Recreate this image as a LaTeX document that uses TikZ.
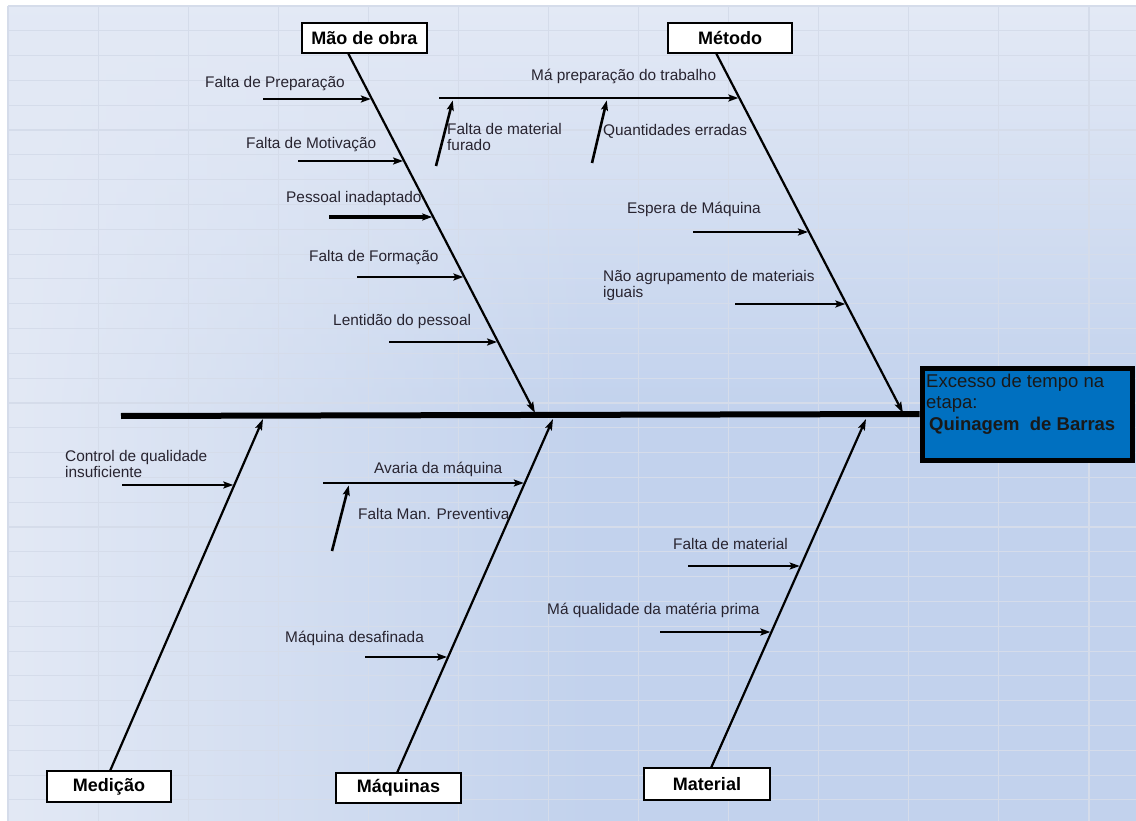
\documentclass[tikz,border=0pt]{standalone}
\usepackage{fontspec}
\setmainfont{Liberation Sans}
\usetikzlibrary{arrows.meta,fadings}

\definecolor{bgLight}{RGB}{227,233,245}
\definecolor{bgBlue}{RGB}{194,210,237}
\definecolor{gridc}{RGB}{213,220,234}
\definecolor{txt}{RGB}{40,36,48}
\definecolor{effblue}{RGB}{0,112,192}

% sheet background: light at the top, blue further down
\pgfdeclareverticalshading{sheetv}{100bp}{color(0bp)=(bgBlue); color(25bp)=(bgBlue); color(50bp)=(bgBlue); color(75bp)=(bgLight); color(100bp)=(bgLight)}
\tikzfading[name=faderight, left color=transparent!0, right color=transparent!100]

\tikzset{
  catbox/.style={draw=black, line width=2.5pt, fill=white, text=black, inner sep=0pt,
    font=\fontsize{18}{20}\selectfont\bfseries},
  bone/.style={line width=2.2pt, -{Stealth[length=11pt,width=7pt,inset=2pt]}},
  subarrow/.style={line width=2.6pt, -{Stealth[length=10pt,width=7pt,inset=2pt]}, shorten >=1pt},
  lbl/.style={anchor=base west, inner sep=0pt, text=txt, align=left,
    font=\fontsize{15.4}{16}\selectfont},
  gridline/.style={draw=gridc, line width=1.1pt}
}

\begin{document}
\begin{tikzpicture}[x=1pt,y=-1pt]
\useasboundingbox (0,0) rectangle (1136,821);
\fill[white] (0,0) rectangle (1136,821);

% spreadsheet background and cell grid
\shade[shading=sheetv] (8,6) rectangle (1136,821);
\fill[bgLight, path fading=faderight] (8,6) rectangle (600,821);
\foreach \i in {0,...,12} \draw[gridline] ({8+90.08*\i},6) -- ({8+90.08*\i},821);
\foreach \k in {0,...,32} \draw[gridline] (8,{6+24.81*\k}) -- (1136,{6+24.81*\k});

% effect box (multi-line labels are placed by the baseline of their last line)
\node[draw=black, line width=5pt, fill=effblue, minimum width=210pt, minimum height=92pt,
      inner sep=0pt, anchor=north west] (eff) at (919.5,365.5) {};
\node[lbl, text=black!90, font=\fontsize{18.5}{21.5}\selectfont] (efftxt) at (926,430)
  {Excesso de tempo na\\etapa:\\\hspace{3pt}\textbf{Quinagem\ \ de Barras}};

% spine
\coordinate (spineL) at (121,416);
\draw[line width=6pt] (spineL) -- (eff.west);

% category boxes
\node[catbox, minimum width=125pt, minimum height=30pt] (mao) at (364.5,38) {Mão de obra};
\node[catbox, minimum width=124pt, minimum height=30pt] (met) at (730,38) {Método};
\node[catbox, minimum width=124pt, minimum height=31pt] (med) at (109,786.5) {Medição};
\node[catbox, minimum width=125pt, minimum height=30pt] (maq) at (398.5,788) {Máquinas};
\node[catbox, minimum width=126pt, minimum height=32pt] (mat) at (707,784) {Material};

% bone ends
\coordinate (maoTop) at (348,53);   \coordinate (maoEnd) at (535,413);
\coordinate (metTop) at (716,53);   \coordinate (metEnd) at (903,413);
\coordinate (medBot) at (110,771);  \coordinate (medEnd) at (263,419);
\coordinate (maqBot) at (397,773);  \coordinate (maqEnd) at (553,419);
\coordinate (matBot) at (711,768);  \coordinate (matEnd) at (866,419);

\draw[bone] (maoTop) -- (maoEnd);
\draw[bone] (metTop) -- (metEnd);
\draw[bone] (medBot) -- (medEnd);
\draw[bone] (maqBot) -- (maqEnd);
\draw[bone] (matBot) -- (matEnd);

% Mão de obra causes
\coordinate (a1s) at (263,99);  \coordinate (a1e) at (371.9,99);
\coordinate (a2s) at (298,161); \coordinate (a2e) at (404.1,161);
\coordinate (a3s) at (329,217); \coordinate (a3e) at (433.2,217);
\coordinate (a4s) at (357,277); \coordinate (a4e) at (464.4,277);
\coordinate (a5s) at (389,342); \coordinate (a5e) at (498.1,342);
\draw[subarrow] (a1s) -- (a1e);
\draw[subarrow] (a2s) -- (a2e);
\draw[subarrow, line width=4pt] (a3s) -- (a3e);
\draw[subarrow] (a4s) -- (a4e);
\draw[subarrow] (a5s) -- (a5e);
\node[lbl] (t1) at (205,88)  {Falta de Preparação};
\node[lbl] (t2) at (246,149) {Falta de Motivação};
\node[lbl] (t3) at (286,203) {Pessoal inadaptado};
\node[lbl] (t4) at (309,262) {Falta de Formação};
\node[lbl] (t5) at (333,326) {Lentidão do pessoal};

% Método causes
\coordinate (b1s) at (439,98);  \coordinate (b1e) at (739.4,98);
\coordinate (b2s) at (693,232); \coordinate (b2e) at (809,232);
\coordinate (b3s) at (735,304); \coordinate (b3e) at (846.4,304);
\draw[subarrow] (b1s) -- (b1e);
\draw[subarrow] (b2s) -- (b2e);
\draw[subarrow] (b3s) -- (b3e);
\coordinate (c1s) at (436,166); \coordinate (c1e) at (453,99.5);
\coordinate (c2s) at (592,163); \coordinate (c2e) at (607,99.5);
\draw[subarrow] (c1s) -- (c1e);
\draw[subarrow] (c2s) -- (c2e);
\node[lbl] (u1) at (531,81)  {Má preparação do trabalho};
\node[lbl] (u2) at (447,151) {Falta de material\\furado};
\node[lbl] (u3) at (603,136) {Quantidades erradas};
\node[lbl] (u4) at (627,214) {Espera de Máquina};
\node[lbl] (u5) at (603,298) {Não agrupamento de materiais\\iguais};

% Medição causes
\coordinate (d1s) at (122,485); \coordinate (d1e) at (234.3,485);
\draw[subarrow] (d1s) -- (d1e);
\node[lbl] (v1) at (65,477) {Control de qualidade\\insuficiente};

% Máquinas causes
\coordinate (e1s) at (323,483); \coordinate (e1e) at (524.8,483);
\coordinate (e2s) at (365,657); \coordinate (e2e) at (448.1,657);
\coordinate (f1s) at (332,551); \coordinate (f1e) at (349,484.5);
\draw[subarrow] (e1s) -- (e1e);
\draw[subarrow] (e2s) -- (e2e);
\draw[subarrow] (f1s) -- (f1e);
\node[lbl] (w1) at (374,473) {Avaria da máquina};
\node[lbl] (w2) at (358,519) {Falta Man. Preventiva};
\node[lbl] (w3) at (285,642) {Máquina desafinada};

% Material causes
\coordinate (g1s) at (688,566); \coordinate (g1e) at (800.7,566);
\coordinate (g2s) at (660,632); \coordinate (g2e) at (771.4,632);
\draw[subarrow] (g1s) -- (g1e);
\draw[subarrow] (g2s) -- (g2e);
\node[lbl] (x1) at (673,549) {Falta de material};
\node[lbl] (x2) at (547,614) {Má qualidade da matéria prima};
\end{tikzpicture}
\end{document}
